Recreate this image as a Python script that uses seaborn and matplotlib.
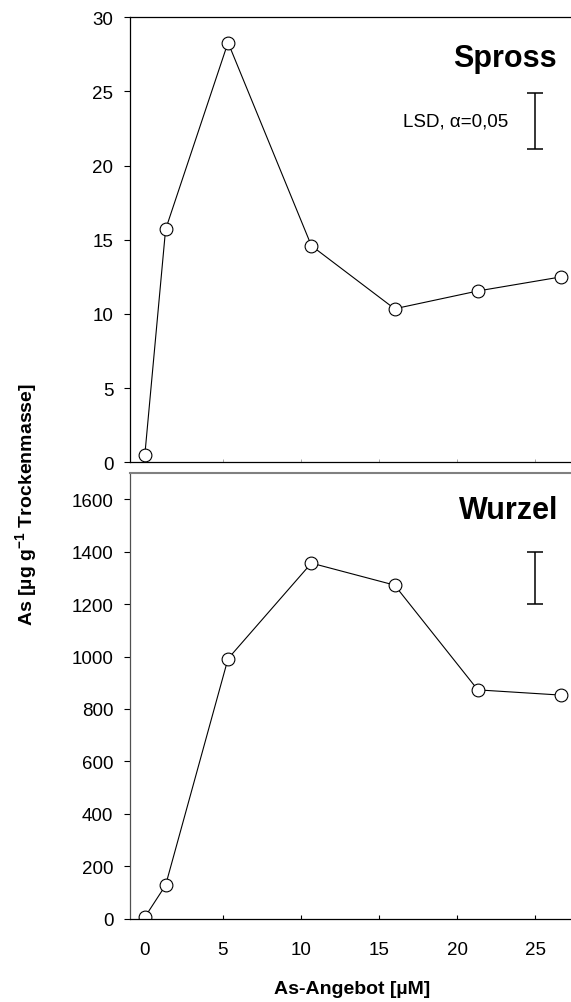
import matplotlib
matplotlib.use("Agg")
import matplotlib.pyplot as plt
import seaborn as sns
import pandas as pd

# As supply (µM) and measured As content (µg g-1 dry mass)
as_supply = [0, 1.33, 5.33, 10.67, 16.0, 21.33, 26.67]
spross = [0.5, 15.7, 28.3, 14.6, 10.35, 11.55, 12.5]
wurzel = [5, 127, 992, 1357, 1273, 873, 853]

# LSD (alpha = 0.05) bars: lower and upper ends
lsd_spross = [21.1, 24.9]
lsd_wurzel = [1200, 1400]

x_ticks = [0, 5, 10, 15, 20, 25]
spross_ticks = [0, 5, 10, 15, 20, 25, 30]
wurzel_ticks = [0, 200, 400, 600, 800, 1000, 1200, 1400, 1600]

sns.set_style("ticks")
plt.rcParams["font.family"] = ["Liberation Sans", "DejaVu Sans"]
plt.rcParams["mathtext.fontset"] = "custom"
plt.rcParams["mathtext.rm"] = "Liberation Sans"
plt.rcParams["mathtext.bf"] = "Liberation Sans:bold"
plt.rcParams["mathtext.it"] = "Liberation Sans:italic"
plt.rcParams["text.color"] = "black"
plt.rcParams["axes.labelcolor"] = "black"
plt.rcParams["xtick.color"] = "black"
plt.rcParams["ytick.color"] = "black"

df_s = pd.DataFrame({"supply": as_supply, "value": spross})
df_w = pd.DataFrame({"supply": as_supply, "value": wurzel})

W, H = 571, 1003
fig = plt.figure(figsize=(W / 100, H / 100), dpi=100)

left = 130 / W
ax1 = fig.add_axes([left, 1 - 463.3 / H, 1 - left, (463.3 - 18.3) / H])
ax2 = fig.add_axes([left, 1 - 919.5 / H, 1 - left, (919.5 - 474.3) / H])

line_kw = dict(color="black", lw=0.8, marker="o", markersize=9.2,
               markerfacecolor="white", markeredgecolor="black",
               markeredgewidth=0.8)

sns.lineplot(data=df_s, x="supply", y="value", ax=ax1, **line_kw)
sns.lineplot(data=df_w, x="supply", y="value", ax=ax2, **line_kw)

xlim = (-0.95, 27.3)
for ax in (ax1, ax2):
    ax.set_xlim(*xlim)
    ax.set_xticks(x_ticks)
    ax.set_xlabel("")
    ax.set_ylabel("")
    ax.tick_params(axis="y", direction="out", length=4, width=0.8,
                   pad=8, labelsize=13.5, colors="black")
    ax.spines["right"].set_visible(False)
    for s in ("left", "bottom", "top"):
        ax.spines[s].set_linewidth(0.9)
        ax.spines[s].set_color("black")

# upper panel: shoot
ax1.set_ylim(0, 30)
ax1.set_yticks(spross_ticks)
ax1.tick_params(axis="x", direction="in", length=2.5, width=0.6,
                color="#999999", labelbottom=False)
ax1.text(0.968, 0.8906, "Spross", transform=ax1.transAxes, ha="right",
         va="baseline", fontsize=22, fontweight="bold", color="black")
ax1.errorbar([25], [sum(lsd_spross) / 2], yerr=[(lsd_spross[1] - lsd_spross[0]) / 2],
             fmt="none", ecolor="black", elinewidth=1.1, capsize=6, capthick=1.1)
ax1.text(23.3, sum(lsd_spross) / 2, "LSD, α=0,05", ha="right", va="center",
         fontsize=13.5, color="black")

# lower panel: root
ax2.set_ylim(0, 1700)
ax2.set_yticks(wurzel_ticks)
ax2.tick_params(axis="x", direction="in", length=3, width=0.8,
                pad=16, labelsize=13.5, colors="black")
ax2.spines["top"].set_color("#808080")
ax2.spines["top"].set_linewidth(1.5)
ax2.spines["left"].set_color("#505050")
ax2.text(0.9705, 0.8996, "Wurzel", transform=ax2.transAxes, ha="right",
         va="baseline", fontsize=22, fontweight="bold", color="black")
ax2.errorbar([25], [sum(lsd_wurzel) / 2], yerr=[(lsd_wurzel[1] - lsd_wurzel[0]) / 2],
             fmt="none", ecolor="black", elinewidth=1.1, capsize=6, capthick=1.1)

fig.text(352 / W, 1 - 990 / H, "As-Angebot [µM]", ha="center", va="center",
         fontsize=14, fontweight="bold", color="black")
fig.text(26 / W, 1 - 505 / H, r"As [µg g$^{\mathbf{-1}}$ Trockenmasse]",
         rotation=90, ha="center", va="center", fontsize=14, fontweight="bold",
         color="black")

fig.savefig("out.png", dpi=100)
